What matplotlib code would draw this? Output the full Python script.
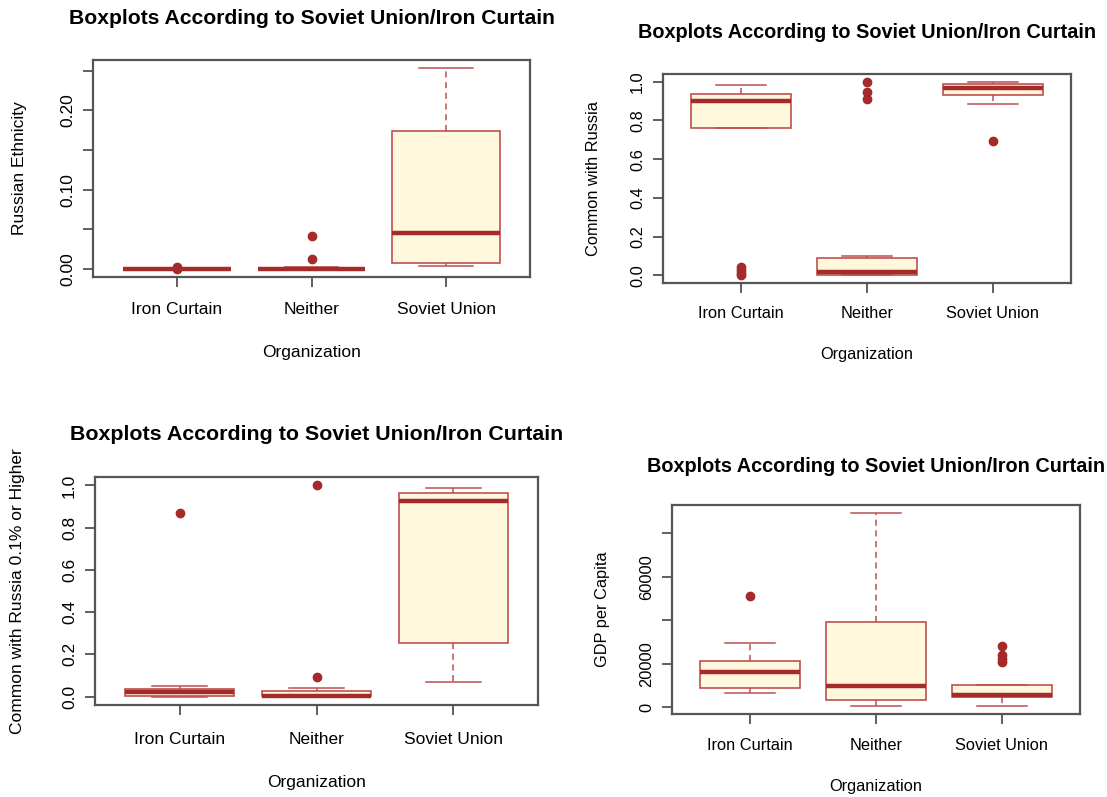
import matplotlib.pyplot as plt

plt.rcParams["font.family"] = ["Liberation Sans", "DejaVu Sans"]

organizations = ["Iron Curtain", "Neither", "Soviet Union"]
title_text = "Boxplots According to Soviet Union/Iron Curtain"

# five-number summaries per group: lower whisker, Q1, median, Q3, upper whisker
russian_low = [0.0, 0.0, 0.0034]
russian_q1 = [0.0, 0.0, 0.0076]
russian_med = [0.0, 0.0, 0.0459]
russian_q3 = [0.0003, 0.0005, 0.1735]
russian_high = [0.0006, 0.0025, 0.2535]
russian_out = [[0.0025, 0.0005], [0.0126, 0.0417], []]

common_low = [0.763, 0.0, 0.883]
common_q1 = [0.763, 0.003, 0.930]
common_med = [0.899, 0.019, 0.966]
common_q3 = [0.936, 0.089, 0.986]
common_high = [0.981, 0.101, 0.997]
common_out = [[0.043, 0.025, 0.012, 0.003], [1.0, 0.945, 0.911], [0.692]]

higher_low = [0.0, 0.0, 0.069]
higher_q1 = [0.005, 0.001, 0.254]
higher_med = [0.020, 0.005, 0.928]
higher_q3 = [0.036, 0.024, 0.965]
higher_high = [0.049, 0.041, 0.986]
higher_out = [[0.871], [1.0, 0.091], []]

gdp_low = [6440, 400, 610]
gdp_q1 = [8890, 3370, 4600]
gdp_med = [16090, 9500, 5360]
gdp_q3 = [21300, 39230, 9960]
gdp_high = [29270, 89400, 9960]
gdp_out = [[51190], [], [27900, 23800, 22000, 20800]]

W, H = 1107, 797
BROWN = "#A52A2A"
EDGE = "#BF5050"
FILL = "#FFF8DC"


def px_rect(x0, y0, x1, y1):
    return [x0 / W, 1 - y1 / H, (x1 - x0) / W, (y1 - y0) / H]


def make_stats(low, q1, med, q3, high, out):
    stats = []
    for i in range(len(organizations)):
        stats.append({
            "whislo": low[i], "q1": q1[i], "med": med[i],
            "q3": q3[i], "whishi": high[i], "fliers": out[i],
        })
    return stats


def draw_panel(fig, rect, stats, ylabel, yticks, ylabels, title_y, title_size,
               font_size, tick_y, xlabel_y, ylabel_x):
    x0, y0, x1, y1 = rect
    ax = fig.add_axes(px_rect(x0, y0, x1, y1))
    ax.bxp(
        stats, positions=[1, 2, 3], widths=0.8, capwidths=0.4,
        patch_artist=True,
        boxprops=dict(facecolor=FILL, edgecolor=EDGE, linewidth=1.2),
        whiskerprops=dict(color=EDGE, linewidth=1.1, linestyle=(0, (4, 3))),
        capprops=dict(color=EDGE, linewidth=1.1),
        medianprops=dict(color=BROWN, linewidth=3.2, solid_capstyle="butt"),
        flierprops=dict(marker="o", markerfacecolor=BROWN, markeredgecolor=BROWN,
                        markersize=6),
    )

    values = []
    for s in stats:
        values += [s["whislo"], s["whishi"]] + list(s["fliers"])
    lo, hi = min(values), max(values)
    span = hi - lo
    ax.set_ylim(lo - 0.04 * span, hi + 0.04 * span)
    ax.set_xlim(0.38, 3.62)

    ax.set_yticks(yticks)
    ax.set_yticklabels(ylabels, rotation=90, va="center", fontsize=font_size)
    ax.set_xticks([1, 2, 3])
    ax.set_xticklabels([])
    ax.tick_params(axis="both", length=7, width=1.1, color="#333333", pad=6)

    for side in ax.spines.values():
        side.set_color("#555555")
        side.set_linewidth(1.6)

    cx = (x0 + x1) / 2
    fig.text(cx / W, 1 - title_y / H, title_text, ha="center", va="center",
             fontsize=title_size, fontweight="bold")
    for i, name in enumerate(organizations):
        xp = ax.transData.transform((i + 1, 0))[0] / fig.dpi / fig.get_figwidth()
        fig.text(xp, 1 - tick_y / H, name, ha="center", va="center",
                 fontsize=font_size)
    fig.text(cx / W, 1 - xlabel_y / H, "Organization", ha="center", va="center",
             fontsize=font_size)
    fig.text(ylabel_x / W, 1 - ((y0 + y1) / 2) / H, ylabel, ha="center",
             va="center", rotation=90, fontsize=font_size)
    return ax


def main():
    fig = plt.figure(figsize=(W / 100, H / 100), dpi=100)

    draw_panel(
        fig, (93, 60, 530, 277),
        make_stats(russian_low, russian_q1, russian_med, russian_q3,
                   russian_high, russian_out),
        "Russian Ethnicity",
        [0.0, 0.05, 0.10, 0.15, 0.20, 0.25],
        ["0.00", "", "0.10", "", "0.20", ""],
        18, 15.2, 12.5, 310, 352, 20,
    )

    draw_panel(
        fig, (663, 74, 1071, 283),
        make_stats(common_low, common_q1, common_med, common_q3,
                   common_high, common_out),
        "Common with Russia",
        [0.0, 0.2, 0.4, 0.6, 0.8, 1.0],
        ["0.0", "0.2", "0.4", "0.6", "0.8", "1.0"],
        33, 14.3, 11.8, 314, 354, 593,
    )

    draw_panel(
        fig, (95, 477, 538, 705),
        make_stats(higher_low, higher_q1, higher_med, higher_q3,
                   higher_high, higher_out),
        "Common with Russia 0.1% or Higher",
        [0.0, 0.2, 0.4, 0.6, 0.8, 1.0],
        ["0.0", "0.2", "0.4", "0.6", "0.8", "1.0"],
        434, 15.4, 12.5, 740, 783, 18,
    )

    draw_panel(
        fig, (672, 505, 1080, 714),
        make_stats(gdp_low, gdp_q1, gdp_med, gdp_q3, gdp_high, gdp_out),
        "GDP per Capita",
        [0, 20000, 40000, 60000, 80000],
        ["0", "20000", "", "60000", ""],
        466, 14.3, 11.8, 746, 786, 603,
    )

    fig.savefig("out.png", dpi=100)
    plt.close(fig)


if __name__ == "__main__":
    main()
